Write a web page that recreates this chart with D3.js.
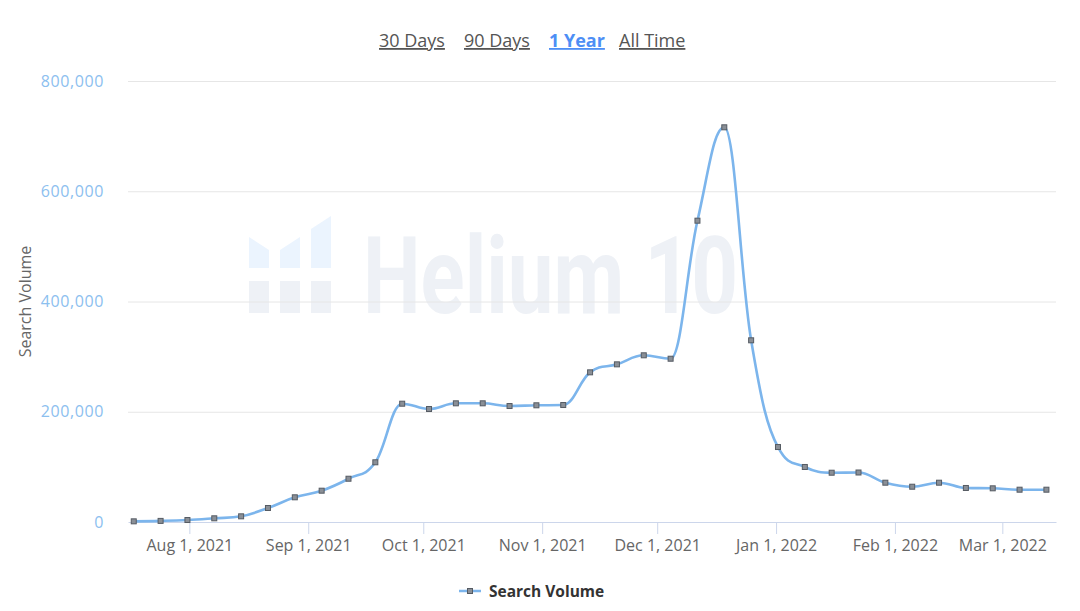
<!DOCTYPE html>
<meta charset="utf-8">
<head>
<title>search volume</title>
<script src="https://cdn.jsdelivr.net/npm/d3@7"></script>
<style>
  body { margin: 0; background: #fff; }
  svg { display: block; font-family: "Open Sans", Lato, sans-serif; }
</style>
</head>
<body>

<div id="chart"></div>

<script>

const width = 1080;
const height = 611;

// weekly points
const dates = [
  "2021-07-17", "2021-07-24", "2021-07-31", "2021-08-07", "2021-08-14",
  "2021-08-21", "2021-08-28", "2021-09-04", "2021-09-11", "2021-09-18",
  "2021-09-25", "2021-10-02", "2021-10-09", "2021-10-16", "2021-10-23",
  "2021-10-30", "2021-11-06", "2021-11-13", "2021-11-20", "2021-11-27",
  "2021-12-04", "2021-12-11", "2021-12-18", "2021-12-25", "2022-01-01",
  "2022-01-08", "2022-01-15", "2022-01-22", "2022-01-29", "2022-02-05",
  "2022-02-12", "2022-02-19", "2022-02-26", "2022-03-05", "2022-03-12"
];
const volume = [
  1200, 2000, 3600, 6700, 10300,
  25400, 44800, 56800, 78500, 108300,
  214600, 205000, 215300, 215300, 210400,
  211700, 212200, 271500, 286000, 302400,
  296200, 546600, 716000, 329600, 136000,
  99800, 89400, 89800, 71300, 64000,
  71300, 61700, 61100, 58600, 58600
];
const yTicks = [0, 200000, 400000, 600000, 800000];
const ranges = ["30 Days", "90 Days", "1 Year", "All Time"];
const activeRange = "1 Year";
const seriesName = "Search Volume";

const margin = {left: 128, right: 24, top: 81, bottom: 89};

const svg = d3.select("#chart")
  .append("svg")
  .attr("width", width)
  .attr("height", height)
  .attr("viewBox", [0, 0, width, height]);

const x = d3.scaleUtc()
  .domain([new Date(Date.UTC(2021, 6, 16)), new Date(Date.UTC(2022, 2, 15))])
  .range([margin.left, width - margin.right]);

const y = d3.scaleLinear()
  .domain([0, 800000])
  .range([height - margin.bottom, margin.top]);

const parse = d3.utcParse("%Y-%m-%d");
const points = dates.map((d, i) => ({date: d3.utcHour.offset(parse(d), 12), value: volume[i]}));

// watermark
const wm = svg.append("g");
const bars = [
  [[249, 237], [269, 250], [269, 268], [249, 268]],
  [[280, 250], [300, 237], [300, 268], [280, 268]],
  [[311, 229], [331, 216], [331, 268], [311, 268]]
];
wm.selectAll("polygon")
  .data(bars)
  .join("polygon")
    .attr("points", d => d.join(" "))
    .attr("fill", "#ebf4fe");
wm.selectAll("rect")
  .data([249, 280, 311])
  .join("rect")
    .attr("x", d => d)
    .attr("y", 281)
    .attr("width", 20)
    .attr("height", 32)
    .attr("fill", "#eef1f6");
wm.append("text")
  .attr("x", 363)
  .attr("y", 313)
  .attr("font-family", "Roboto, sans-serif")
  .attr("font-weight", 700)
  .attr("font-size", 107)
  .attr("textLength", 375)
  .attr("lengthAdjust", "spacingAndGlyphs")
  .attr("fill", "#eef1f6")
  .text("Helium 10");

// grid
svg.append("g")
  .selectAll("line")
  .data(yTicks.slice(1))
  .join("line")
    .attr("x1", margin.left)
    .attr("x2", width - margin.right)
    .attr("y1", d => y(d) + 0.5)
    .attr("y2", d => y(d) + 0.5)
    .attr("stroke", "#e6e6e6");

// y labels
svg.append("g")
  .selectAll("text")
  .data(yTicks)
  .join("text")
    .attr("x", 104)
    .attr("y", d => y(d) + 5.5)
    .attr("text-anchor", "end")
    .attr("font-size", 16)
    .attr("letter-spacing", 0.6)
    .attr("fill", "#8cc0ef")
    .text(d => d3.format(",")(d));

svg.append("text")
  .attr("transform", `translate(31,${(margin.top + height - margin.bottom) / 2}) rotate(-90)`)
  .attr("text-anchor", "middle")
  .attr("font-size", 16)
  .attr("fill", "#666")
  .text("Search Volume");

// x axis
const xAxis = svg.append("g")
  .attr("transform", `translate(0,${height - margin.bottom})`)
  .call(d3.axisBottom(x)
    .ticks(d3.utcMonth.every(1))
    .tickFormat(d3.utcFormat("%b %-d, %Y"))
    .tickSize(12)
    .tickSizeOuter(0)
    .tickPadding(6));
xAxis.select(".domain").attr("stroke", "#ccd6eb");
xAxis.selectAll(".tick line").attr("stroke", "#ccd6eb");
xAxis.selectAll(".tick text")
  .attr("font-size", 16)
  .attr("font-family", "\"Open Sans\", Lato, sans-serif")
  .attr("fill", "#666");

// highcharts style spline
function hcSpline(context) {
  let pts;
  return {
    areaStart() {}, areaEnd() {},
    lineStart() { pts = []; },
    point(px, py) { pts.push([+px, +py]); },
    lineEnd() {
      const n = pts.length;
      const sm = 1.5, den = sm + 1;
      const lc = [], rc = [];
      for (let i = 1; i < n - 1; i++) {
        const [px, py] = pts[i], [ax, ay] = pts[i - 1], [bx, by] = pts[i + 1];
        let lx = (sm * px + ax) / den, ly = (sm * py + ay) / den;
        let rx = (sm * px + bx) / den, ry = (sm * py + by) / den;
        let corr = 0;
        if (rx !== lx) corr = ((ry - ly) * (rx - px)) / (rx - lx) + py - ry;
        ly += corr; ry += corr;
        if (ly > ay && ly > py) { ly = Math.max(ay, py); ry = 2 * py - ly; }
        else if (ly < ay && ly < py) { ly = Math.min(ay, py); ry = 2 * py - ly; }
        if (ry > by && ry > py) { ry = Math.max(by, py); ly = 2 * py - ry; }
        else if (ry < by && ry < py) { ry = Math.min(by, py); ly = 2 * py - ry; }
        lc[i] = [lx, ly]; rc[i] = [rx, ry];
      }
      context.moveTo(pts[0][0], pts[0][1]);
      for (let i = 1; i < n; i++) {
        const a = rc[i - 1] || pts[i - 1];
        const b = lc[i] || pts[i];
        context.bezierCurveTo(a[0], a[1], b[0], b[1], pts[i][0], pts[i][1]);
      }
    }
  };
}

const line = d3.line()
  .x(d => x(d.date))
  .y(d => y(d.value))
  .curve(hcSpline);

svg.append("path")
  .datum(points)
  .attr("d", line)
  .attr("fill", "none")
  .attr("stroke", "#7cb5ec")
  .attr("stroke-width", 2.6)
  .attr("stroke-linejoin", "round");

svg.append("g")
  .selectAll("rect")
  .data(points)
  .join("rect")
    .attr("x", d => x(d.date) - 2.5)
    .attr("y", d => y(d.value) - 2.5)
    .attr("width", 5)
    .attr("height", 5)
    .attr("fill", "#8a8f96")
    .attr("stroke", "#555b63")
    .attr("stroke-width", 1);

// range buttons
const btnX = [379, 464, 549, 619];
svg.append("g")
  .selectAll("text")
  .data(ranges)
  .join("text")
    .attr("x", (d, i) => btnX[i])
    .attr("y", 47)
    .attr("font-size", 18)
    .attr("font-weight", d => d === activeRange ? 700 : 400)
    .attr("fill", d => d === activeRange ? "#4d8ef5" : "#555")
    .attr("text-decoration", "underline")
    .text(d => d);

// legend
const lg = svg.append("g").attr("transform", "translate(459,591)");
lg.append("line")
  .attr("x1", 0).attr("x2", 22)
  .attr("stroke", "#7cb5ec")
  .attr("stroke-width", 2.5);
lg.append("rect")
  .attr("x", 8.5).attr("y", -2.5)
  .attr("width", 5).attr("height", 5)
  .attr("fill", "#8a8f96")
  .attr("stroke", "#555b63");
lg.append("text")
  .attr("x", 30)
  .attr("y", 5.5)
  .attr("font-size", 15.5)
  .attr("font-weight", 700)
  .attr("fill", "#333")
  .text(seriesName);

</script>

</body>
